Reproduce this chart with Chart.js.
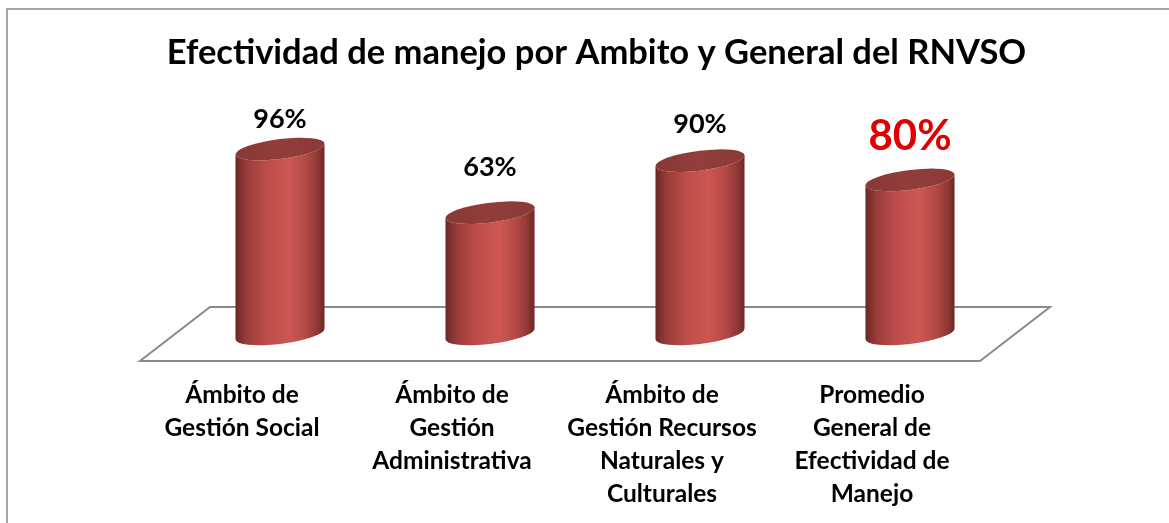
<!DOCTYPE html>
<html>
<head>
<meta charset="utf-8">
<script src="https://cdn.jsdelivr.net/npm/chart.js@4.4.1/dist/chart.umd.min.js"></script>
<style>
  html, body { margin: 0; padding: 0; background: #ffffff; }
  #wrap { width: 1169px; height: 523px; position: relative; }
</style>
</head>
<body>
<div id="wrap"><canvas id="c" width="1169" height="523"></canvas></div>
<script>
// ---- data ----
const titleText = "Efectividad de manejo por Ambito y General del RNVSO";
const categories = [
  ["Ámbito de", "Gestión Social"],
  ["Ámbito de", "Gestión", "Administrativa"],
  ["Ámbito de", "Gestión Recursos", "Naturales y", "Culturales"],
  ["Promedio", "General de", "Efectividad de", "Manejo"]
];
const values = [96, 63, 90, 80];
const valueLabels = ["96%", "63%", "90%", "80%"];
const highlightIndex = 3;

// ---- styling ----
const FONT = "Lato, 'Open Sans', 'DejaVu Sans', sans-serif";
const labelLift = [30, 45, 36, 43];

const framePlugin = {
  id: 'frame',
  beforeDraw(chart) {
    const ctx = chart.ctx;
    ctx.save();
    ctx.strokeStyle = '#a6a6a6';
    ctx.lineWidth = 2;
    ctx.strokeRect(7, 9, 1400, 800);
    ctx.restore();
  },
  beforeDatasetsDraw(chart) {
    const ctx = chart.ctx;
    const a = chart.chartArea;
    const y0 = chart.scales.y.getPixelForValue(0);
    const dx = 35, dy = 27;
    ctx.save();
    ctx.strokeStyle = '#8a8a8a';
    ctx.lineWidth = 2;
    ctx.beginPath();
    ctx.moveTo(a.left + dx, y0 - dy);
    ctx.lineTo(a.right + dx, y0 - dy);
    ctx.lineTo(a.right - dx, y0 + dy);
    ctx.lineTo(a.left - dx, y0 + dy);
    ctx.closePath();
    ctx.stroke();
    ctx.restore();
  }
};

const cylinderPlugin = {
  id: 'cylinders',
  afterDatasetsDraw(chart) {
    const ctx = chart.ctx;
    const meta = chart.getDatasetMeta(0);
    meta.data.forEach((el, i) => {
      const cx = el.x, yTop = el.y, yBot = el.base;
      const rx = el.width / 2, ry = 10, k = 0.12;
      ctx.save();
      const g = ctx.createLinearGradient(cx - rx, 0, cx + rx, 0);
      g.addColorStop(0, '#6a2725');
      g.addColorStop(0.12, '#983c39');
      g.addColorStop(0.35, '#bd4d4a');
      g.addColorStop(0.6, '#cc5753');
      g.addColorStop(0.8, '#b24845');
      g.addColorStop(0.93, '#8c3634');
      g.addColorStop(1, '#6b2725');
      ctx.beginPath();
      ctx.moveTo(cx - rx, yTop + k * rx);
      ctx.lineTo(cx - rx, yBot + k * rx);
      ctx.save();
      ctx.transform(1, -k, 0, 1, cx, yBot);
      ctx.ellipse(0, 0, rx, ry, 0, Math.PI, 0, true);
      ctx.restore();
      ctx.lineTo(cx + rx, yTop - k * rx);
      ctx.save();
      ctx.transform(1, -k, 0, 1, cx, yTop);
      ctx.ellipse(0, 0, rx, ry, 0, 0, Math.PI, false);
      ctx.restore();
      ctx.closePath();
      ctx.fillStyle = g;
      ctx.fill();
      // top cap
      ctx.beginPath();
      ctx.save();
      ctx.transform(1, -k, 0, 1, cx, yTop);
      ctx.ellipse(0, 0, rx, ry, 0, 0, Math.PI * 2);
      ctx.restore();
      const tg = ctx.createLinearGradient(cx - rx, 0, cx + rx, 0);
      tg.addColorStop(0, '#873836');
      tg.addColorStop(0.5, '#923d3b');
      tg.addColorStop(1, '#8a3937');
      ctx.fillStyle = tg;
      ctx.fill();
      ctx.restore();

      // value label
      ctx.save();
      ctx.textAlign = 'center';
      ctx.textBaseline = 'middle';
      if (i === highlightIndex) {
        ctx.fillStyle = '#e10000';
        ctx.font = "bold 42px " + FONT;
      } else {
        ctx.fillStyle = '#000000';
        ctx.font = "bold 27px " + FONT;
      }
      ctx.fillText(valueLabels[i], cx, yTop - labelLift[i]);
      ctx.restore();
    });
  }
};

const hiddenAxis = (pos, w) => ({
  position: pos,
  display: true,
  min: 0,
  max: 100,
  grid: { display: false, drawTicks: false },
  border: { display: false },
  ticks: { display: false },
  afterFit(scale) { scale.width = w; }
});

new Chart(document.getElementById('c'), {
  type: 'bar',
  data: {
    labels: categories,
    datasets: [{
      data: values,
      yAxisID: 'y',
      backgroundColor: 'rgba(0,0,0,0)',
      borderWidth: 0,
      barPercentage: 0.424,
      categoryPercentage: 1.0
    }]
  },
  options: {
    responsive: false,
    animation: false,
    devicePixelRatio: 1,
    layout: { padding: { left: 24, right: 0, top: 0, bottom: 0 } },
    plugins: {
      legend: { display: false },
      tooltip: { enabled: false },
      title: {
        display: true,
        text: titleText,
        color: '#000000',
        font: { family: FONT, size: 34.5, weight: 'bold', lineHeight: 1.2 },
        padding: { top: 32, bottom: 68 }
      }
    },
    scales: {
      x: {
        grid: { display: false },
        border: { display: false },
        afterFit(scale) { scale.height = 189; },
        ticks: {
          color: '#000000',
          maxRotation: 0,
          autoSkip: false,
          padding: 37,
          labelOffset: -38,
          font: { family: FONT, size: 24.5, weight: 'bold', lineHeight: '33px' }
        }
      },
      y: hiddenAxis('left', 151),
      yRight: hiddenAxis('right', 154)
    }
  },
  plugins: [framePlugin, cylinderPlugin]
});
</script>
</body>
</html>
